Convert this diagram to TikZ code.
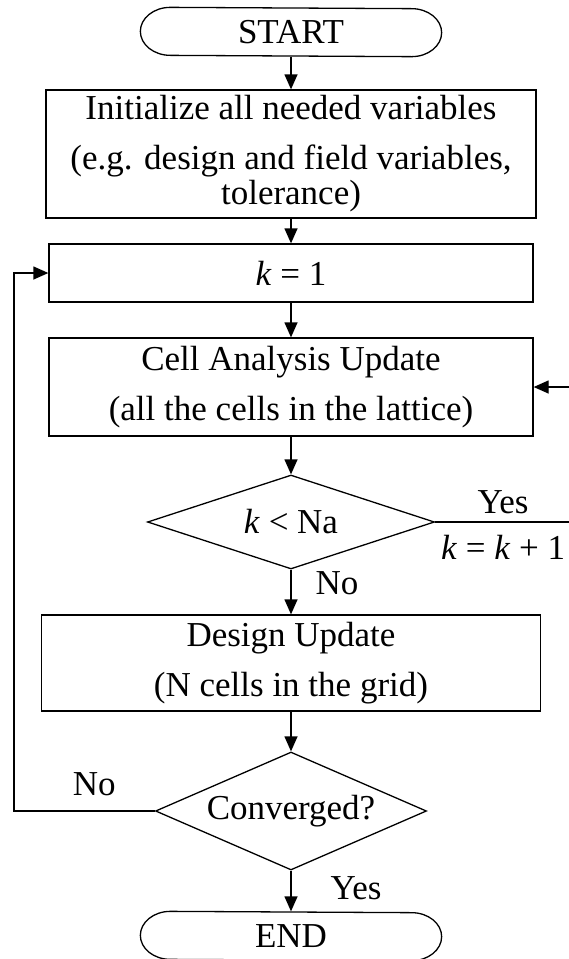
\documentclass[tikz,border=0pt]{standalone}
\usepackage{fontspec}
\setmainfont{Liberation Serif}
\usetikzlibrary{shapes.geometric,arrows.meta}

\begin{document}
\begin{tikzpicture}[x=1pt,y=-1pt,line width=1.3pt,
  every node/.style={font=\fontsize{35}{50}\selectfont},
  box/.style={draw,rectangle,align=center,inner sep=0pt},
  decision/.style={draw,diamond,aspect=2.3,inner sep=0pt},
  terminal/.style={inner sep=0pt,minimum width=240pt,minimum height=48pt},
  flow/.style={-{Triangle[length=15pt,width=13pt]}},
  lbl/.style={inner sep=2pt}]
\useasboundingbox (0,0) rectangle (569,959);

\node[terminal] (start) at (291,32) {START};
\node[box,minimum width=490pt,minimum height=128pt] (init) at (291,154)
  {Initialize all needed variables\\[0pt](e.g. design and field variables,\\[-15pt]tolerance)};
\node[box,minimum width=484pt,minimum height=58pt] (kone) at (291,273) {\textit{k} = 1};
\node[box,minimum width=484pt,minimum height=98pt] (cell) at (291,387)
  {Cell Analysis Update\\(all the cells in the lattice)};
\node[decision,minimum width=287pt,minimum height=94pt] (check) at (291,522) {\textit{k} < Na};
\node[box,minimum width=499pt,minimum height=96pt] (design) at (291,663)
  {Design Update\\(N cells in the grid)};
\node[decision,minimum width=271pt,minimum height=118pt] (conv) at (291,811) {Converged?};
\node[terminal] (stop) at (291,936) {END};

% rounded ends of START and END
\foreach \t in {start,stop}
  \draw (\t.north west) arc[start angle=90,end angle=270,x radius=30pt,y radius=24pt]
    -- (\t.south east) arc[start angle=-90,end angle=90,x radius=30pt,y radius=24pt] -- cycle;

\coordinate (right) at (571,522);
\coordinate (left) at (14,811);

\draw[flow] (start) -- (init);
\draw[flow] (init) -- (kone);
\draw[flow] (kone) -- (cell);
\draw[flow] (cell) -- (check);
\draw[flow] (check) -- node[lbl,right=22pt,pos=0.3] {No} (design);
\draw[flow] (design) -- (conv);
\draw[flow] (conv) -- node[lbl,right=37pt,pos=0.44] {Yes} (stop);
\draw[flow] (check.east) -- node[lbl,above,inner sep=8pt] {Yes}
  node[lbl,below,inner sep=13pt] {\textit{k} = \textit{k} + 1} (right) |- (cell.east);
\draw[flow] (conv.west) -- node[lbl,above,pos=0.43,inner sep=15pt] {No} (conv.west -| left) |- (kone.west);
\end{tikzpicture}
\end{document}
